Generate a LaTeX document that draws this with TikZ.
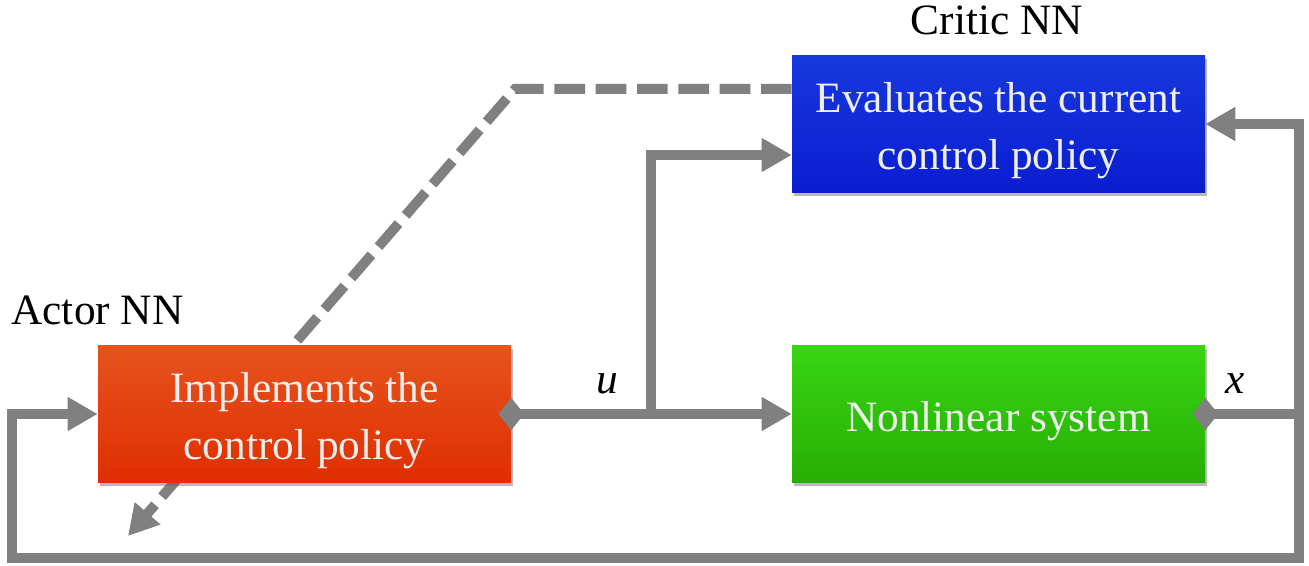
\documentclass[tikz,border=0pt]{standalone}
\usepackage{fontspec}
\setmainfont{Liberation Serif}
\usetikzlibrary{arrows.meta,shapes.geometric,shadows,calc,backgrounds}
\definecolor{linegray}{HTML}{808080}
\definecolor{txt}{HTML}{EEEEEE}
\definecolor{actA}{HTML}{E5541E}
\definecolor{actB}{HTML}{E02E00}
\definecolor{sysA}{HTML}{38D512}
\definecolor{sysB}{HTML}{27AE04}
\definecolor{crA}{HTML}{1738DE}
\definecolor{crB}{HTML}{0A1DCF}
\tikzset{
  blk/.style={rectangle, minimum width=309.75pt, minimum height=102.75pt, inner sep=0pt,
    drop shadow={opacity=0.45, fill=black!60, shadow xshift=1.5pt, shadow yshift=-2.5pt}},
  blktext/.style={inner sep=0pt, text=txt, align=center, font=\fontsize{32.5}{42.75}\selectfont},
  lbl/.style={font=\fontsize{32.5}{40}\selectfont, inner sep=0pt},
  conn/.style={draw=linegray, line width=7.5pt, line join=miter},
  tip/.style={-{Triangle[length=22.5pt, width=24pt]}},
  dashconn/.style={conn, dash pattern=on 23pt off 8pt},
  dia/.style={diamond, fill=linegray, inner sep=0pt, minimum width=19.5pt, minimum height=24.5pt}
}
\begin{document}
\begin{tikzpicture}[x=0.75pt, y=-0.75pt]
\useasboundingbox (0,0) rectangle (1309,566);
% boxes
\path (304.5,414) node[blk, top color=actA, bottom color=actB] (actor) {};
\path (998.5,414) node[blk, top color=sysA, bottom color=sysB] (sys) {};
\path (998.5,124) node[blk, top color=crA, bottom color=crB] (critic) {};
\path ($(actor.center)+(0,7)$) node[blktext] (actortext) {Implements the\\control policy};
\path ($(sys.center)+(0,7)$) node[blktext] (systext) {Nonlinear system};
\path ($(critic.center)+(0,7)$) node[blktext] (critictext) {Evaluates the current\\control policy};
% labels
\path (997,35) node[lbl, anchor=base] (criticlbl) {Critic NN};
\path (97.5,325) node[lbl, anchor=base] (actorlbl) {Actor NN};
\path (607,393) node[lbl, anchor=base] (ulbl) {\itshape u};
\path (1235,393) node[lbl, anchor=base] (xlbl) {\itshape x};
% coordinates
\coordinate (dk) at (515,89);
\coordinate (dend) at (128,536);
\coordinate (br) at (651,414);
\coordinate (rt) at (1299,414);
\coordinate (bl) at (12,558);
% dashed connector (behind boxes)
\begin{scope}[on background layer]
\draw[dashconn, tip] ($(critic.west)+(0,-35)$) -- (dk) -- (dend);
\end{scope}
% solid connectors
\draw[conn, tip] (actor.east) -- (sys.west);
\draw[conn, tip] (br) |- ($(critic.west)+(0,31)$);
\draw[conn] (sys.east) -- (rt);
\draw[conn, tip] (rt) |- (critic.east);
\draw[conn, tip] (rt) |- (bl) |- (actor.west);
% diamonds
\node[dia] (d1) at (actor.east) {};
\node[dia] (d2) at (sys.east) {};
\end{tikzpicture}
\end{document}
